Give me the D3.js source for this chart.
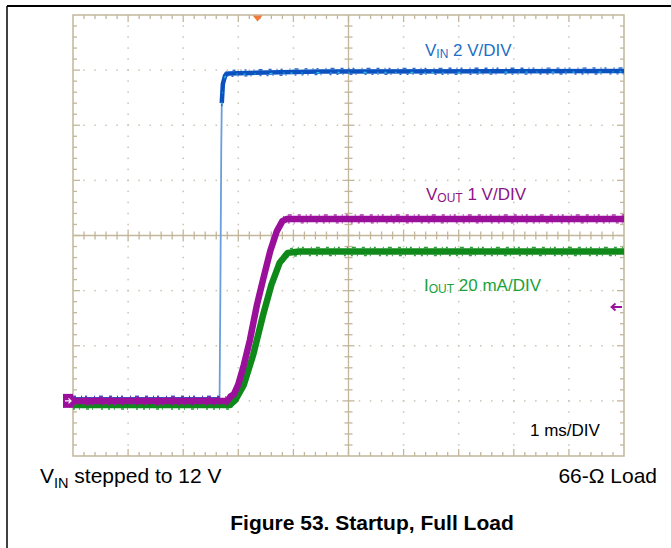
<!DOCTYPE html>
<html><head><meta charset="utf-8">
<script src="https://cdn.jsdelivr.net/npm/d3@7"></script>
<style>
html,body{margin:0;padding:0;background:#fff;}
svg{display:block;font-family:"Liberation Sans",Arial,sans-serif;}
</style></head>
<body>
<svg id="c" width="671" height="548"></svg>
<script>
// time in ms (1 ms/DIV, 10 divisions)
const vinTime = [0, 2.66, 2.675, 2.69, 2.70, 2.72, 2.76, 2.82, 3.2, 4.5, 10];
const vinVolts = [0.08, 0.08, 4.0, 9.0, 10.8, 11.5, 11.8, 11.88, 11.9, 11.95, 11.97];
const voutTime = [0, 2.80, 2.86, 2.92, 3.0, 3.1, 3.21, 3.34, 3.45, 3.58, 3.70, 3.80, 3.88, 10];
const voutVolts = [0, 0, 0.08, 0.12, 0.3, 0.65, 1.1, 1.75, 2.2, 2.72, 3.08, 3.26, 3.30, 3.30];
const ioutTime = [0, 2.85, 2.95, 3.1, 3.27, 3.45, 3.6, 3.75, 3.9, 4.1, 10];
const ioutMilliamps = [-1.5, -1.5, 0.4, 5.8, 16.7, 31.2, 42.1, 50.1, 53.7, 54.2, 54.2];
const voltsPerDivVin = 2, voltsPerDivVout = 1, mAPerDivIout = 20;
const xDivs = d3.range(0, 11), yDivs = d3.range(-1, 8);
const labels = {vin: ["V","IN"," 2 V/DIV"], vout: ["V","OUT"," 1 V/DIV"], iout: ["I","OUT"," 20 mA/DIV"]};

const svg = d3.select("#c");
const x = d3.scaleLinear().domain([0, 10]).range([73, 624]);
const y = d3.scaleLinear().domain([-1, 7]).range([456, 15]);
const grid = "#c2b69b", dot = "#c9c3b3";

// outer frame
svg.append("line").attr("x1",7).attr("x2",671).attr("y1",6).attr("y2",6).attr("stroke","#000").attr("stroke-width",2);
svg.append("line").attr("x1",7).attr("x2",7).attr("y1",6).attr("y2",548).attr("stroke","#000").attr("stroke-width",1.5);

const g = svg.append("g");
// dotted grid
const minorX = d3.range(0, 10.001, 0.2), minorY = d3.range(-1, 7.001, 0.2);
xDivs.filter(d => d > 0 && d < 10 && d !== 5).forEach(d => {
  g.selectAll(null).data(minorY.slice(1,-1)).join("rect")
    .attr("x", x(d)-0.75).attr("y", v => y(v)-0.75).attr("width",1.5).attr("height",1.5).attr("fill",dot);
});
yDivs.filter(d => d > -1 && d < 7 && d !== 3).forEach(d => {
  g.selectAll(null).data(minorX.slice(1,-1)).join("rect")
    .attr("x", v => x(v)-0.75).attr("y", y(d)-0.75).attr("width",1.5).attr("height",1.5).attr("fill",dot);
});
// border
g.append("rect").attr("x",x(0)).attr("y",y(7)).attr("width",x(10)-x(0)).attr("height",y(-1)-y(7))
  .attr("fill","none").attr("stroke",grid).attr("stroke-width",1.5);
// border ticks
const isMajor = v => Math.abs(v - Math.round(v)) < 1e-6;
g.selectAll(null).data(minorX.slice(1,-1)).join("line")
  .attr("x1", d => x(d)).attr("x2", d => x(d)).attr("y1", y(7)).attr("y2", d => y(7) + (isMajor(d)?7:4))
  .attr("stroke",grid).attr("stroke-width",1.3);
g.selectAll(null).data(minorX.slice(1,-1)).join("line")
  .attr("x1", d => x(d)).attr("x2", d => x(d)).attr("y1", y(-1)).attr("y2", d => y(-1) - (isMajor(d)?7:4))
  .attr("stroke",grid).attr("stroke-width",1.3);
g.selectAll(null).data(minorY.slice(1,-1)).join("line")
  .attr("y1", d => y(d)).attr("y2", d => y(d)).attr("x1", x(0)).attr("x2", d => x(0) + (isMajor(d)?7:4))
  .attr("stroke",grid).attr("stroke-width",1.3);
g.selectAll(null).data(minorY.slice(1,-1)).join("line")
  .attr("y1", d => y(d)).attr("y2", d => y(d)).attr("x1", x(10)).attr("x2", d => x(10) - (isMajor(d)?7:4))
  .attr("stroke",grid).attr("stroke-width",1.3);
// center cross
g.append("line").attr("x1",x(0)).attr("x2",x(10)).attr("y1",y(3)).attr("y2",y(3)).attr("stroke",grid).attr("stroke-width",1.3);
g.append("line").attr("y1",y(7)).attr("y2",y(-1)).attr("x1",x(5)).attr("x2",x(5)).attr("stroke",grid).attr("stroke-width",1.3);
g.selectAll(null).data(minorX.slice(1,-1)).join("line")
  .attr("x1", d => x(d)).attr("x2", d => x(d)).attr("y1", d => y(3) - (isMajor(d)?6:4)).attr("y2", d => y(3) + (isMajor(d)?6:4))
  .attr("stroke",grid).attr("stroke-width",1.3);
g.selectAll(null).data(minorY.slice(1,-1)).join("line")
  .attr("y1", d => y(d)).attr("y2", d => y(d)).attr("x1", d => x(5) - (isMajor(d)?6:4)).attr("x2", d => x(5) + (isMajor(d)?6:4))
  .attr("stroke",grid).attr("stroke-width",1.3);

// traces
const line = d3.line().x(d => x(d[0])).y(d => y(d[1]));
function band(pts, color, w, speck, name) {
  const tg = svg.append("g").attr("class", name);
  tg.append("path").attr("d", line(pts)).attr("fill","none").attr("stroke",color).attr("stroke-width",w).attr("stroke-linejoin","round");
  [-1, 1].forEach((s, i) => {
    tg.append("path").attr("d", line(pts)).attr("transform", `translate(0,${s*(w/2+0.7)})`)
      .attr("fill","none").attr("stroke",color).attr("stroke-width",1.4).attr("opacity",0.85)
      .attr("stroke-dasharray", i ? "2 4 1 6 3 3 1 8 2 5" : "3 5 1 3 2 7 1 4 4 6");
  });
  if (speck) {
    tg.append("path").attr("d", line(pts)).attr("fill","none").attr("stroke",speck).attr("stroke-width",1.2)
      .attr("transform","translate(0,1)").attr("stroke-dasharray","2 9 1 14 3 11 1 6");
  }
}
const vinPts = vinTime.map((t,i) => [t, vinVolts[i]/voltsPerDivVin]);
const voutPts = voutTime.map((t,i) => [t, voutVolts[i]/voltsPerDivVout]);
const ioutPts = ioutTime.map((t,i) => [t, ioutMilliamps[i]/mAPerDivIout]);

// VIN: thin fast edge + thick bands on flat parts
svg.append("path").attr("d", line(vinPts)).attr("fill","none").attr("stroke","#6b9fdc").attr("stroke-width",1.8);
band(vinPts.filter(d => d[0] <= 2.66), "#1f5fc8", 3.5, null, "vin0");
band(vinPts.filter(d => d[0] >= 2.70), "#0b52c0", 4.5, "#21c4e0", "vin1");
band(ioutPts, "#0f8a1a", 6.5, null, "iout");
band(voutPts, "#9a109a", 6.5, null, "vout");

// channel markers
svg.append("rect").attr("x",63).attr("y",y(0)-7).attr("width",10).attr("height",14).attr("fill","#9a109a");
svg.append("path").attr("d",`M65,${y(0)} H71 M68.5,${y(0)-2.5} L71,${y(0)} L68.5,${y(0)+2.5}`).attr("stroke","#fff").attr("stroke-width",1.3).attr("fill","none");
svg.append("path").attr("d",`M622,${307} H612 M615.5,${303.5} L611.5,307 L615.5,310.5`).attr("stroke","#9a109a").attr("stroke-width",1.8).attr("fill","none");
// trigger marker
svg.append("path").attr("d",`M${x(3.35)-5},${y(7)+0.5} h10 l-5,6 z`).attr("fill","#f47a3a");

// labels
function chLabel(px, py, parts, color) {
  const t = svg.append("text").attr("x",px).attr("y",py).attr("fill",color).attr("font-size",17);
  t.append("tspan").text(parts[0]);
  t.append("tspan").attr("font-size",12).attr("dy",2).text(parts[1]);
  t.append("tspan").attr("dy",-2).text(parts[2]);
}
chLabel(425, 56, labels.vin, "#1d6fc4");
chLabel(426, 200, labels.vout, "#8a1585");
chLabel(424, 291, labels.iout, "#19a23a");
svg.append("text").attr("x",530).attr("y",436).attr("font-size",17).attr("fill","#000").text("1 ms/DIV");

const b = svg.append("text").attr("x",40).attr("y",483).attr("font-size",21).attr("fill","#000");
b.append("tspan").text("V");
b.append("tspan").attr("font-size",14.5).attr("dy",4.5).text("IN");
b.append("tspan").attr("dy",-4.5).text(" stepped to 12 V");
svg.append("text").attr("x",657).attr("y",483).attr("text-anchor","end").attr("font-size",21).attr("fill","#000").text("66-Ω Load");
svg.append("text").attr("x",372).attr("y",530).attr("text-anchor","middle").attr("font-size",21).attr("font-weight","bold").attr("fill","#000").text("Figure 53. Startup, Full Load");
</script>
</body></html>
